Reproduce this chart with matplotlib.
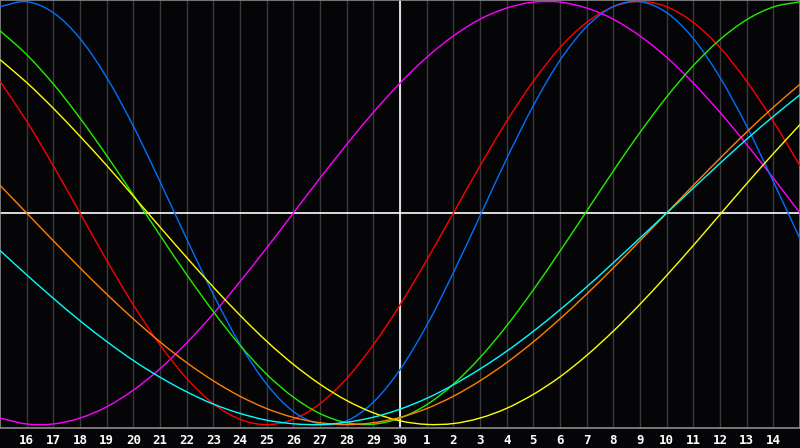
import matplotlib
matplotlib.use('Agg')
import matplotlib.pyplot as plt
from matplotlib.path import Path
from matplotlib.patches import PathPatch

# day numbers along the x axis (one column per day, 15th to 15th)
days = [15, 16, 17, 18, 19, 20, 21, 22, 23, 24, 25, 26, 27, 28, 29, 30,
        1, 2, 3, 4, 5, 6, 7, 8, 9, 10, 11, 12, 13, 14, 15]

# cycle values (-1 .. 1), read per day
blue = [.976, .999, .947, .825, .641, .411, .149, -.122, -.385, -.620, -.809,
        -.938, -.997, -.982, -.894, -.740, -.532, -.282, -.014, .257, .508,
        .722, .881, .976, .999, .947, .825, .641, .411, .149, -.122]
red = [.623, .434, .223, 0, -.223, -.434, -.623, -.782, -.901, -.975, -1,
       -.975, -.901, -.782, -.623, -.434, -.223, 0, .223, .434, .623,
       .782, .901, .975, 1, .975, .901, .782, .623, .434, .223]
green = [.862, .749, .610, .449, .272, .085, -.105, -.291, -.466, -.625, -.762,
         -.870, -.948, -.991, -.998, -.969, -.906, -.809, -.683, -.533, -.363,
         -.180, .009, .199, .381, .549, .697, .820, .914, .974, .999]
magenta = [-.969, -.997, -.997, -.969, -.916, -.837, -.736, -.614, -.476, -.324, -.165,
           0, .165, .324, .476, .614, .736, .837, .916, .969, .997,
           .997, .969, .916, .837, .736, .614, .476, .324, .165, 0]
yellow = [.725, .617, .495, .363, .225, .080, -.066, -.210, -.350, -.483, -.606,
          -.715, -.809, -.886, -.944, -.982, -.999, -.995, -.969, -.923, -.857,
          -.774, -.673, -.558, -.431, -.295, -.153, -.007, .139, .281, .418]
orange = [.131, 0, -.131, -.259, -.383, -.5, -.609, -.707, -.793, -.866, -.924,
          -.966, -.991, -1, -.991, -.966, -.924, -.866, -.793, -.707, -.609,
          -.5, -.383, -.259, -.131, 0, .131, .259, .383, .5, .609]
cyan = [-.177, -.292, -.403, -.509, -.607, -.697, -.776, -.845, -.903, -.947, -.979,
        -.996, -1, -.989, -.965, -.927, -.876, -.812, -.737, -.653, -.559,
        -.457, -.349, -.235, -.118, 0, .118, .235, .349, .457, .559]

series = [(magenta, '#ff00ff'), (red, '#ff0000'), (blue, '#0070ff'),
          (green, '#22ee00'), (yellow, '#ffff00'), (orange, '#ff8000'),
          (cyan, '#00ffff')]

x = list(range(len(days)))
today = 15


def smooth_path(xs, ys):
    # catmull-rom style bezier through the daily points
    verts = [(xs[0], ys[0])]
    codes = [Path.MOVETO]
    n = len(xs)
    for k in range(n - 1):
        y0 = ys[k - 1] if k > 0 else 2 * ys[0] - ys[1]
        y3 = ys[k + 2] if k + 2 < n else 2 * ys[-1] - ys[-2]
        x0 = xs[k - 1] if k > 0 else 2 * xs[0] - xs[1]
        x3 = xs[k + 2] if k + 2 < n else 2 * xs[-1] - xs[-2]
        c1 = (xs[k] + (xs[k + 1] - x0) / 6, ys[k] + (ys[k + 1] - y0) / 6)
        c2 = (xs[k + 1] - (x3 - xs[k]) / 6, ys[k + 1] - (y3 - ys[k]) / 6)
        verts += [c1, c2, (xs[k + 1], ys[k + 1])]
        codes += [Path.CURVE4] * 3
    return Path(verts, codes)


fig = plt.figure(figsize=(8, 4.48), dpi=100, facecolor='#050508')
ax = fig.add_axes([0, 20/448, 1, 428/448])
ax.set_facecolor('#050508')

# day grid
for i in x[1:-1]:
    ax.axvline(i, color='#3a3a3a', lw=1, zorder=1)

for vals, col in series:
    ax.add_patch(PathPatch(smooth_path(x, vals), facecolor='none', edgecolor=col,
                           lw=1.0, antialiased=True, zorder=3))

ax.axhline(0, color='white', lw=1.2, zorder=2)
ax.axvline(today, color='white', lw=1.2, zorder=2)

ax.set_xlim(0, 30)
ax.set_ylim(-1.016, 1.007)
ax.set_yticks([])
ax.set_xticks(x[1:-1])
ax.set_xticklabels([str(d) for d in days[1:-1]], color='white',
                   fontsize=9, fontweight='bold', family='DejaVu Sans Mono')
ax.tick_params(axis='x', length=0, pad=4)
for s in ax.spines.values():
    s.set_color('#8c8c8c')
    s.set_linewidth(1.2)

plt.savefig('out.png', dpi=100, facecolor=fig.get_facecolor())
